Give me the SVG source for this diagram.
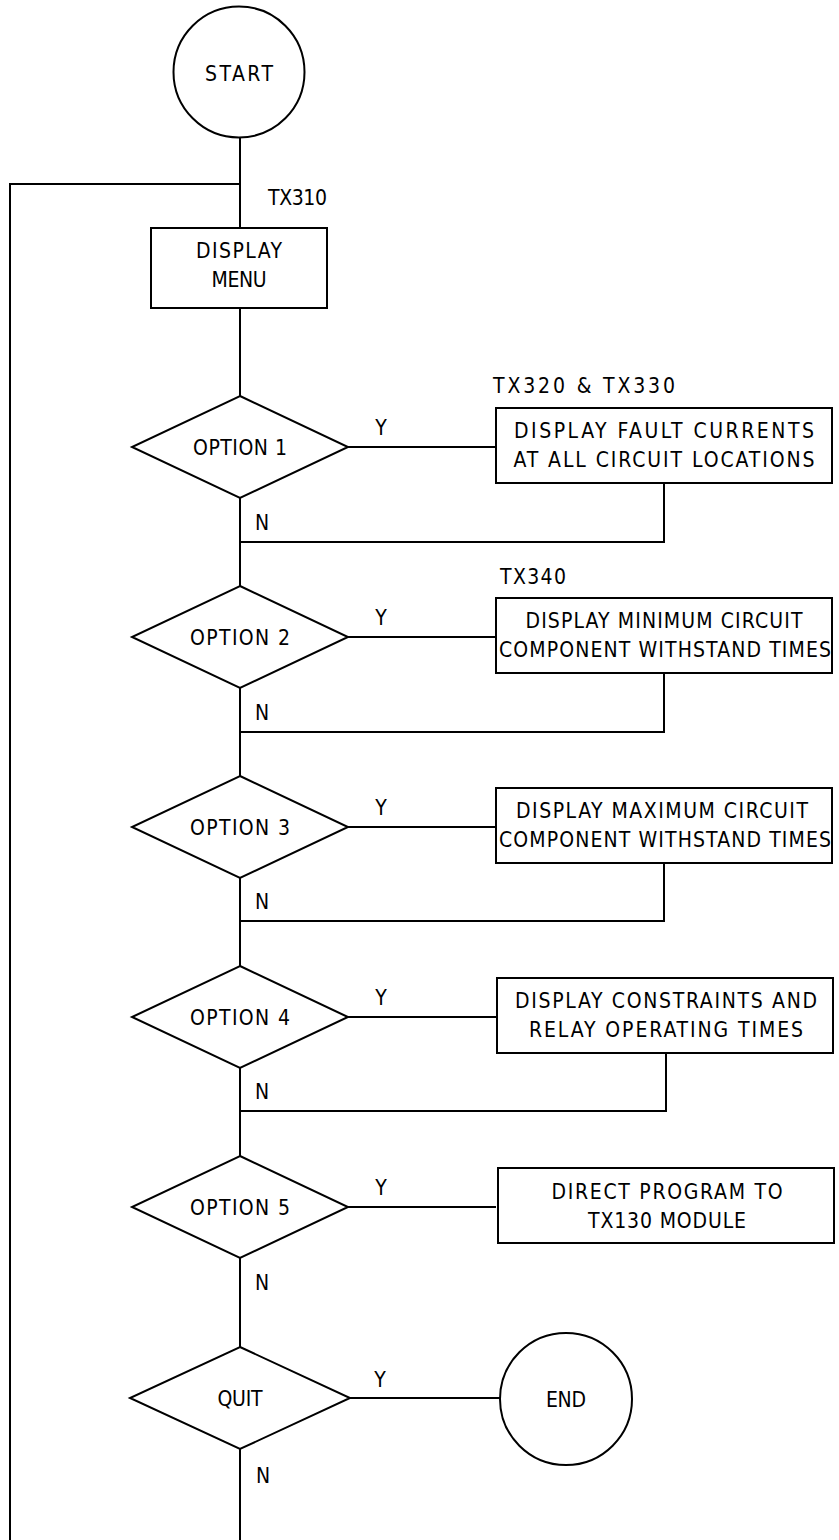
<svg xmlns="http://www.w3.org/2000/svg" width="839" height="1540" viewBox="0 0 839 1540">
  <style>
    .shape { fill: #ffffff; stroke: #000000; stroke-width: 2; }
    .wire { fill: none; stroke: #000000; stroke-width: 2; }
    text { font-family: "Liberation Sans Narrow", "DejaVu Sans Condensed", "Liberation Sans", Arial, sans-serif; font-size: 21px; fill: #000000; }
    .c { text-anchor: middle; }
  </style>
  <rect width="839" height="1540" fill="#ffffff"/>

  <!-- connectors -->
  <g id="connectors">
    <!-- main spine -->
    <line class="wire" x1="240" y1="138" x2="240" y2="228"/>
    <line class="wire" x1="240" y1="308" x2="240" y2="396"/>
    <line class="wire" x1="240" y1="498" x2="240" y2="586"/>
    <line class="wire" x1="240" y1="688" x2="240" y2="776"/>
    <line class="wire" x1="240" y1="878" x2="240" y2="966"/>
    <line class="wire" x1="240" y1="1068" x2="240" y2="1156"/>
    <line class="wire" x1="240" y1="1258" x2="240" y2="1347"/>
    <line class="wire" x1="240" y1="1449" x2="240" y2="1540"/>
    <!-- loop back to the menu -->
    <path class="wire" d="M240,184 H10 V1540"/>
    <!-- yes branches -->
    <line class="wire" x1="348" y1="447" x2="496" y2="447"/>
    <line class="wire" x1="348" y1="637" x2="496" y2="637"/>
    <line class="wire" x1="348" y1="827" x2="496" y2="827"/>
    <line class="wire" x1="348" y1="1017" x2="496" y2="1017"/>
    <line class="wire" x1="348" y1="1207" x2="496" y2="1207"/>
    <line class="wire" x1="350" y1="1398" x2="500" y2="1398"/>
    <!-- returns to the spine -->
    <path class="wire" d="M664,483 V542 H240"/>
    <path class="wire" d="M664,673 V732 H240"/>
    <path class="wire" d="M664,863 V921 H240"/>
    <path class="wire" d="M666,1053 V1111 H240"/>
    <!-- branch labels -->
    <text x="381" y="435" class="c">Y</text>
    <text x="381" y="625" class="c">Y</text>
    <text x="381" y="815" class="c">Y</text>
    <text x="381" y="1005" class="c">Y</text>
    <text x="381" y="1195" class="c">Y</text>
    <text x="380" y="1387" class="c">Y</text>
    <text x="255" y="530">N</text>
    <text x="255" y="720">N</text>
    <text x="255" y="909">N</text>
    <text x="255" y="1099">N</text>
    <text x="255" y="1290">N</text>
    <text x="256" y="1483">N</text>
  </g>

  <g id="start">
    <circle class="shape" cx="239" cy="72" r="65.5"/>
    <text x="239" y="81" class="c" textLength="68" lengthAdjust="spacing">START</text>
  </g>

  <g id="menu">
    <text x="268" y="205" textLength="59" lengthAdjust="spacing">TX310</text>
    <rect class="shape" x="151" y="228" width="176" height="80"/>
    <text x="239" y="258" class="c" textLength="86" lengthAdjust="spacing">DISPLAY</text>
    <text x="239" y="287" class="c" textLength="55" lengthAdjust="spacing">MENU</text>
  </g>

  <g id="option1">
    <polygon class="shape" points="240,396 348,447 240,498 132,447"/>
    <text x="240" y="455" class="c" textLength="94" lengthAdjust="spacing">OPTION 1</text>
  </g>
  <g id="fault-currents">
    <text x="493" y="393" textLength="182" lengthAdjust="spacing">TX320 &amp; TX330</text>
    <rect class="shape" x="496" y="408" width="336" height="75"/>
    <text x="664" y="438" class="c" textLength="300" lengthAdjust="spacing">DISPLAY FAULT CURRENTS</text>
    <text x="664" y="467" class="c" textLength="301" lengthAdjust="spacing">AT ALL CIRCUIT LOCATIONS</text>
  </g>

  <g id="option2">
    <polygon class="shape" points="240,586 348,637 240,688 132,637"/>
    <text x="240" y="645" class="c" textLength="100" lengthAdjust="spacing">OPTION 2</text>
  </g>
  <g id="min-withstand">
    <text x="500" y="584" textLength="66" lengthAdjust="spacing">TX340</text>
    <rect class="shape" x="496" y="598" width="336" height="75"/>
    <text x="664" y="628" class="c" textLength="277" lengthAdjust="spacing">DISPLAY MINIMUM CIRCUIT</text>
    <text x="665" y="657" class="c" textLength="332" lengthAdjust="spacing">COMPONENT WITHSTAND TIMES</text>
  </g>

  <g id="option3">
    <polygon class="shape" points="240,776 348,827 240,878 132,827"/>
    <text x="240" y="835" class="c" textLength="100" lengthAdjust="spacing">OPTION 3</text>
  </g>
  <g id="max-withstand">
    <rect class="shape" x="496" y="788" width="336" height="75"/>
    <text x="662" y="818" class="c" textLength="292" lengthAdjust="spacing">DISPLAY MAXIMUM CIRCUIT</text>
    <text x="665" y="847" class="c" textLength="332" lengthAdjust="spacing">COMPONENT WITHSTAND TIMES</text>
  </g>

  <g id="option4">
    <polygon class="shape" points="240,966 348,1017 240,1068 132,1017"/>
    <text x="240" y="1025" class="c" textLength="100" lengthAdjust="spacing">OPTION 4</text>
  </g>
  <g id="constraints">
    <rect class="shape" x="497" y="978" width="336" height="75"/>
    <text x="666" y="1008" class="c" textLength="302" lengthAdjust="spacing">DISPLAY CONSTRAINTS AND</text>
    <text x="666" y="1037" class="c" textLength="274" lengthAdjust="spacing">RELAY OPERATING TIMES</text>
  </g>

  <g id="option5">
    <polygon class="shape" points="240,1156 348,1207 240,1258 132,1207"/>
    <text x="240" y="1215" class="c" textLength="100" lengthAdjust="spacing">OPTION 5</text>
  </g>
  <g id="redirect">
    <rect class="shape" x="498" y="1168" width="336" height="75"/>
    <text x="667" y="1199" class="c" textLength="231" lengthAdjust="spacing">DIRECT PROGRAM TO</text>
    <text x="667" y="1228" class="c" textLength="158" lengthAdjust="spacing">TX130 MODULE</text>
  </g>

  <g id="quit">
    <polygon class="shape" points="240,1347 350,1398 240,1449 130,1398"/>
    <text x="240" y="1406" class="c" textLength="45" lengthAdjust="spacing">QUIT</text>
  </g>

  <g id="end">
    <circle class="shape" cx="566" cy="1399" r="66"/>
    <text x="566" y="1407" class="c" textLength="40" lengthAdjust="spacing">END</text>
  </g>
</svg>
